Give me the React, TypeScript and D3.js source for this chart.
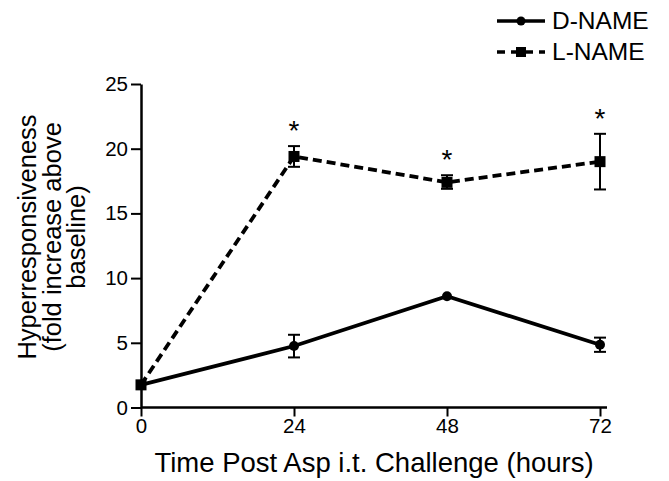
import React from 'react';
import * as d3 from 'd3';

// hours after challenge
const hours = [0, 24, 48, 72];

// D-NAME: mean, error low, error high
const dName = [1.75, 4.75, 8.6, 4.85];
const dNameLo = [1.75, 3.87, 8.6, 4.3];
const dNameHi = [1.75, 5.62, 8.6, 5.4];

// L-NAME
const lName = [1.75, 19.4, 17.4, 19.0];
const lNameLo = [1.75, 18.6, 16.9, 16.85];
const lNameHi = [1.75, 20.2, 17.95, 21.15];
const lNameStar = [false, true, true, true];

const yTicks = [0, 5, 10, 15, 20, 25];
const xTicks = [0, 24, 48, 72];

const font = '"Liberation Sans", Arial, Helvetica, sans-serif';

export default function App() {
  const ref = React.useRef<SVGSVGElement>(null);

  React.useEffect(() => {
    const svg = d3.select(ref.current);
    svg.selectAll('*').remove();

    const x = d3.scaleLinear().domain([0, 72]).range([141, 600]);
    const y = d3.scaleLinear().domain([0, 25]).range([407.5, 84]);

    // axes
    const yAxis = d3.axisLeft(y).tickValues(yTicks).tickSize(10).tickPadding(3).tickSizeOuter(0);
    svg.append('g')
      .attr('transform', `translate(${x(0)},0)`)
      .call(yAxis)
      .call(g => g.select('.domain').attr('stroke-width', 2.5))
      .call(g => g.selectAll('.tick line').attr('stroke-width', 2))
      .call(g => g.selectAll('.tick text').attr('font-size', 20.5).attr('font-family', font).attr('fill', '#000'));

    const xAxis = d3.axisBottom(x).tickValues(xTicks).tickSize(9).tickPadding(2).tickSizeOuter(0);
    svg.append('g')
      .attr('transform', `translate(0,${y(0)})`)
      .call(xAxis)
      .call(g => g.select('.domain').attr('d', `M${x(0)},0H${x(72) + 7}`).attr('stroke-width', 2.5))
      .call(g => g.selectAll('.tick line').attr('stroke-width', 2))
      .call(g => g.selectAll('.tick text').attr('font-size', 20.5).attr('font-family', font).attr('fill', '#000'));

    // axis titles
    svg.append('text')
      .attr('x', 374).attr('y', 472)
      .attr('text-anchor', 'middle')
      .attr('font-family', font).attr('font-size', 27.5)
      .text('Time Post Asp i.t. Challenge (hours)');

    const yLabel = svg.append('text')
      .attr('transform', 'translate(0,237) rotate(-90)')
      .attr('text-anchor', 'middle')
      .attr('font-family', font).attr('font-size', 25.5);
    ['Hyperresponsiveness', '(fold increase above', 'baseline)'].forEach((t, i) => {
      yLabel.append('tspan').attr('x', 0).attr('y', 36 + i * 24.5).text(t);
    });

    const line = d3.line<number>().x((_, i) => x(hours[i])).y(d => y(d));

    const drawErr = (lo: number[], hi: number[]) => {
      hours.forEach((h, i) => {
        if (hi[i] - lo[i] < 0.1) return;
        const g = svg.append('g').attr('stroke', '#000').attr('stroke-width', 2);
        g.append('line').attr('x1', x(h)).attr('x2', x(h)).attr('y1', y(lo[i])).attr('y2', y(hi[i]));
        g.append('line').attr('x1', x(h) - 6).attr('x2', x(h) + 6).attr('y1', y(lo[i])).attr('y2', y(lo[i]));
        g.append('line').attr('x1', x(h) - 6).attr('x2', x(h) + 6).attr('y1', y(hi[i])).attr('y2', y(hi[i]));
      });
    };

    // D-NAME
    svg.append('path').datum(dName)
      .attr('d', line).attr('fill', 'none').attr('stroke', '#000').attr('stroke-width', 3.8);
    drawErr(dNameLo, dNameHi);
    svg.append('g').selectAll('circle').data(dName).join('circle')
      .attr('cx', (_, i) => x(hours[i])).attr('cy', d => y(d)).attr('r', 5).attr('fill', '#000');

    // L-NAME
    svg.append('path').datum(lName)
      .attr('d', line).attr('fill', 'none').attr('stroke', '#000').attr('stroke-width', 3.8)
      .attr('stroke-dasharray', '9,5');
    drawErr(lNameLo, lNameHi);
    svg.append('g').selectAll('rect').data(lName).join('rect')
      .attr('x', (_, i) => x(hours[i]) - 5.5).attr('y', d => y(d) - 5.5)
      .attr('width', 11).attr('height', 11).attr('fill', '#000');

    svg.append('g').selectAll('text').data(hours.filter((_, i) => lNameStar[i])).join('text')
      .attr('x', h => x(h))
      .attr('y', h => y(lNameHi[hours.indexOf(h)]) - 6)
      .attr('text-anchor', 'middle')
      .attr('font-family', font).attr('font-size', 28)
      .text('*');

    // legend
    const legend = svg.append('g').attr('font-family', font).attr('font-size', 24.5);
    legend.append('line').attr('x1', 497).attr('x2', 545).attr('y1', 21).attr('y2', 21)
      .attr('stroke', '#000').attr('stroke-width', 3.5);
    legend.append('circle').attr('cx', 521).attr('cy', 21).attr('r', 4.5);
    legend.append('text').attr('x', 552).attr('y', 29).text('D-NAME');
    legend.append('line').attr('x1', 497).attr('x2', 545).attr('y1', 52).attr('y2', 52)
      .attr('stroke', '#000').attr('stroke-width', 3.5).attr('stroke-dasharray', '8,6');
    legend.append('rect').attr('x', 516).attr('y', 47).attr('width', 10).attr('height', 10);
    legend.append('text').attr('x', 552).attr('y', 60).text('L-NAME');
  }, []);

  return (
    <svg ref={ref} width={669} height={481} style={{ position: 'absolute', left: 0, top: 0, background: '#fff' }} />
  );
}
